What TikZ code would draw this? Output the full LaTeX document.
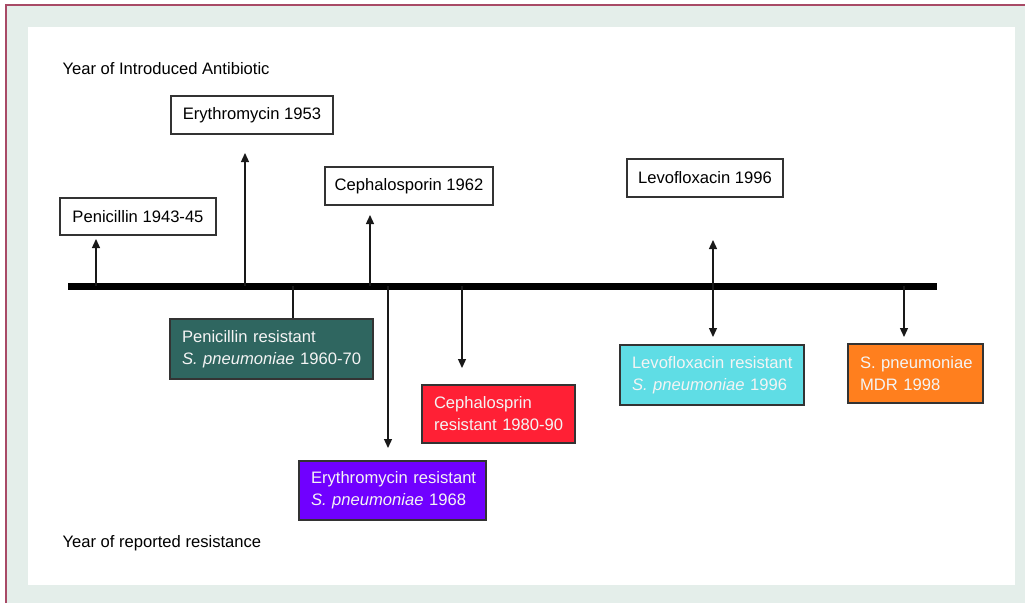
\documentclass[tikz,border=0pt]{standalone}
\usepackage{fontspec}
\setmainfont{Liberation Sans}
\usetikzlibrary{arrows.meta}
\definecolor{bgpanel}{HTML}{E4EEEA}
\definecolor{frameline}{HTML}{A84A66}
\definecolor{tealbox}{HTML}{2F6660}
\definecolor{purplebox}{HTML}{7000FF}
\definecolor{redbox}{HTML}{FF2035}
\definecolor{cyanbox}{HTML}{5FDDE5}
\definecolor{orangebox}{HTML}{FF7F1E}
\definecolor{boxline}{HTML}{333333}
\definecolor{lighttext}{HTML}{F4F4F4}
\tikzset{
  txt/.style={font=\fontsize{16.6}{22}\selectfont},
  introbox/.style={txt, draw=boxline, line width=1.4pt, fill=white, text=black, inner sep=0pt},
  resbox/.style={txt, draw=boxline, line width=1.4pt, text=lighttext, inner xsep=12pt, inner ysep=0pt, align=left},
  conn/.style={draw=black!90, line width=1.3pt},
  arr/.style={conn, -{Triangle[length=9pt,width=8pt]}},
  darr/.style={conn, {Triangle[length=9pt,width=8pt]}-{Triangle[length=9pt,width=8pt]}},
}
\begin{document}
\begin{tikzpicture}[x=1pt,y=-1pt]
\useasboundingbox (0,0) rectangle (1025,603);
% background and frame
\fill[white] (0,0) rectangle (1025,603);
\fill[bgpanel] (6,5) rectangle (1025,603);
\draw[frameline, line width=2pt] (6,603) -- (6,5) -- (1025,5);
\fill[white] (28,27) rectangle (1015,585);

% axis labels
\node[txt, anchor=west] (toplabel) at (59,69) {Year of Introduced Antibiotic};
\node[txt, anchor=west] (botlabel) at (59,543) {Year of reported resistance};

% timeline
\coordinate (tlL) at (68,286);
\coordinate (tlR) at (937,286);
\draw[line width=7pt, black] (tlL) -- (tlR);

% introduced antibiotic boxes
\node[introbox, minimum width=156pt, minimum height=37pt] (pen) at (138,216.5) {Penicillin 1943-45};
\node[introbox, minimum width=162pt, minimum height=38pt] (ery) at (252,115) {Erythromycin 1953};
\node[introbox, minimum width=168pt, minimum height=38pt] (ceph) at (409,186) {Cephalosporin 1962};
\node[introbox, minimum width=156pt, minimum height=38pt] (levo) at (705,178) {Levofloxacin 1996};

% resistance boxes
\node[resbox, fill=tealbox, text width=179pt, minimum height=60pt] (penR) at (271.5,349) {\mbox{Penicillin resistant}\\\mbox{\textit{S. pneumoniae} 1960-70}};
\node[resbox, fill=purplebox, text width=163pt, minimum height=59pt] (eryR) at (392.5,490.5) {\mbox{Erythromycin resistant}\\\mbox{\textit{S. pneumoniae} 1968}};
\node[resbox, fill=redbox, text width=129pt, minimum height=58pt] (cephR) at (498.5,414) {\mbox{Cephalosprin}\\\mbox{resistant 1980-90}};
\node[resbox, fill=cyanbox, text width=160pt, minimum height=60pt] (levoR) at (712,375) {\mbox{Levofloxacin resistant}\\\mbox{\textit{S. pneumoniae} 1996}};
\node[resbox, fill=orangebox, text width=111pt, minimum height=59pt] (mdr) at (915.5,373.5) {\mbox{S. pneumoniae}\\\mbox{MDR 1998}};

% connector anchor points on the timeline
\coordinate (pB) at (96,286);   \coordinate (pT) at (96,239);
\coordinate (eB) at (245,286);  \coordinate (eT) at (245,153);
\coordinate (cB) at (370,286);  \coordinate (cT) at (370,215);
\coordinate (lT) at (713,240);  \coordinate (lB) at (713,337);
\coordinate (prB) at (293,286);
\coordinate (erB) at (388,286); \coordinate (erT) at (388,448);
\coordinate (crB) at (462,286); \coordinate (crT) at (462,368);
\coordinate (mB) at (904,286);  \coordinate (mT) at (904,337);

% upward arrows (introduced)
\draw[arr] (pB) -- (pT);
\draw[arr] (eB) -- (eT);
\draw[arr] (cB) -- (cT);
\draw[darr] (lT) -- (lB);

% downward connectors (resistance)
\draw[conn] (prB) -- (prB |- penR.north);
\draw[arr] (erB) -- (erT);
\draw[arr] (crB) -- (crT);
\draw[arr] (mB) -- (mT);
\end{tikzpicture}
\end{document}
